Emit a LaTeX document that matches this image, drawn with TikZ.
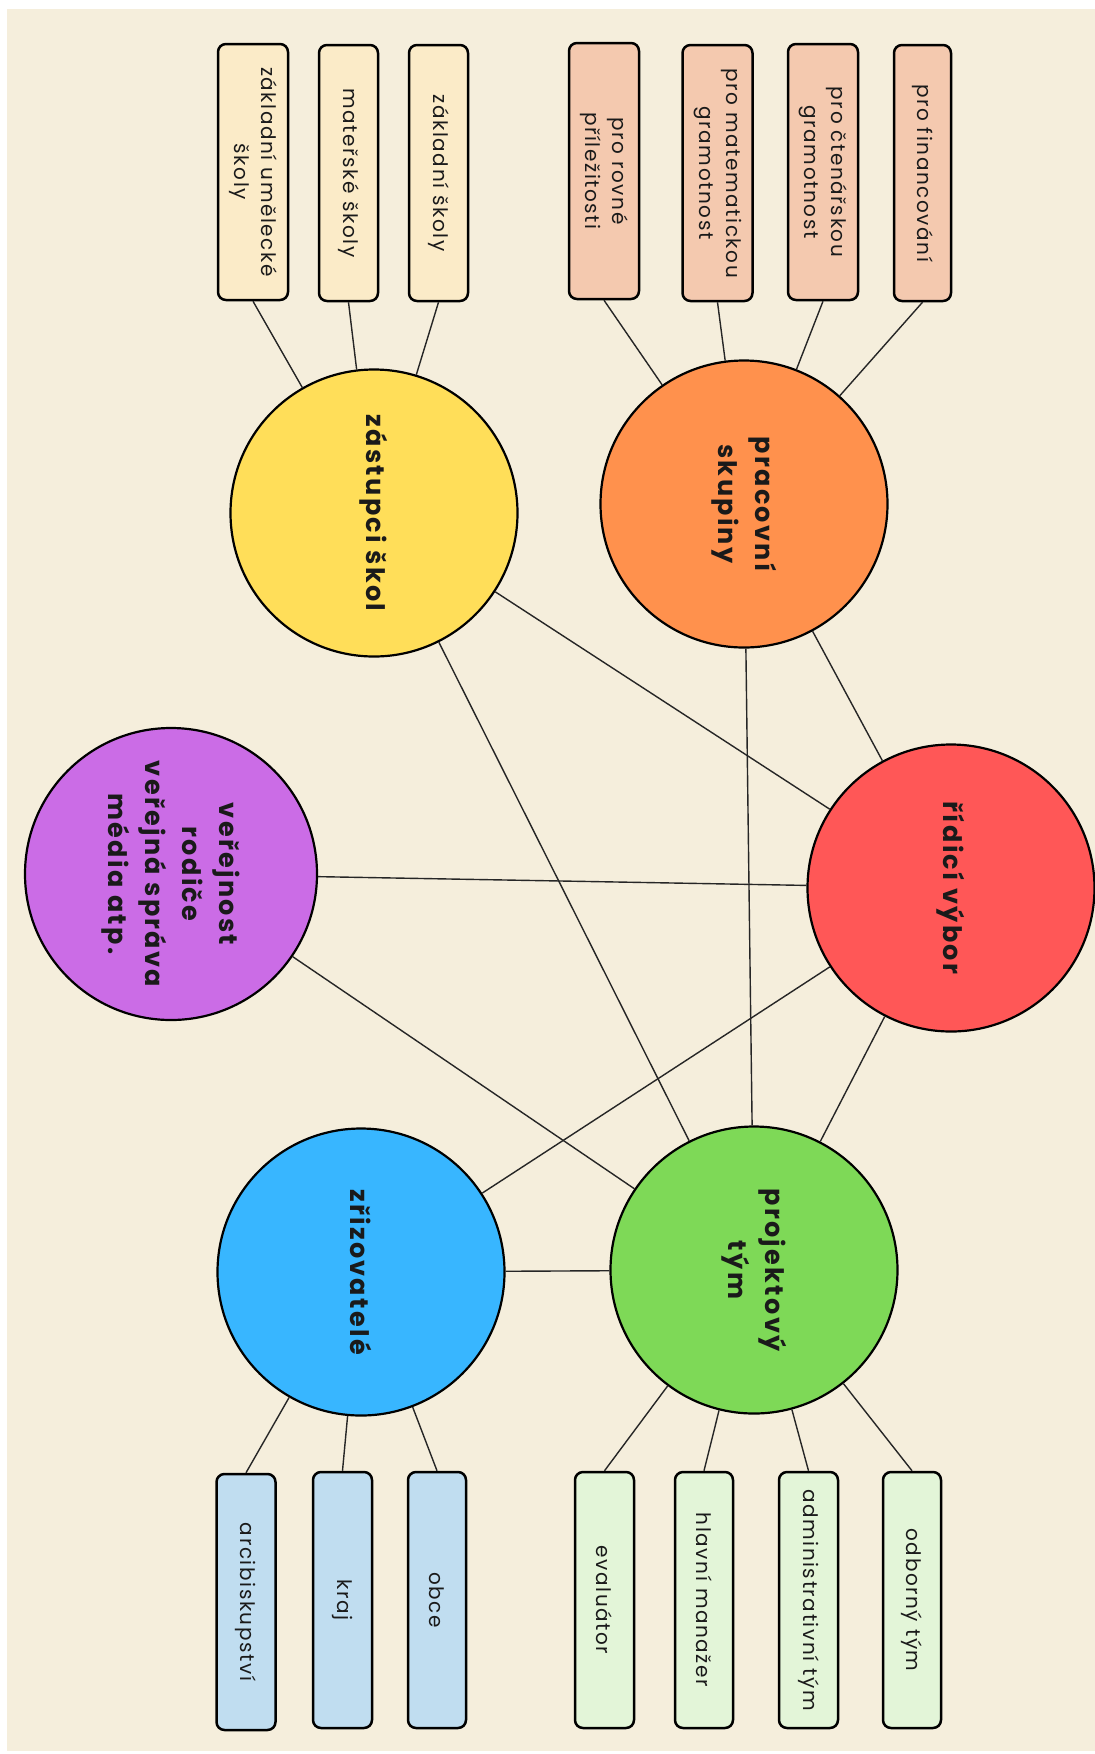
\documentclass[tikz,border=0pt]{standalone}
\usepackage{fontspec}
\setmainfont{Poppins}
\newfontfamily\boxfont{Poppins}[LetterSpace=8]
\newfontfamily\circfont{Poppins}[LetterSpace=9]
\definecolor{bg}{HTML}{F5EEDC}
\definecolor{cyel}{HTML}{FFDE59}
\definecolor{cora}{HTML}{FF914D}
\definecolor{cpur}{HTML}{CB6CE6}
\definecolor{cred}{HTML}{FF5757}
\definecolor{cblu}{HTML}{38B6FF}
\definecolor{cgre}{HTML}{7ED957}
\definecolor{byel}{HTML}{FBEBC8}
\definecolor{bora}{HTML}{F4C9AF}
\definecolor{bblu}{HTML}{C0DDF0}
\definecolor{bgre}{HTML}{E3F5D8}
\definecolor{txt}{HTML}{1A1A1A}
\tikzset{
  hub/.style={circle, draw=black, line width=2.2pt, minimum size=287pt, inner sep=0pt,
    rotate=-90, align=center, text=txt, font=\circfont\bfseries\fontsize{25.5}{37}\selectfont},
  leaf/.style={rectangle, rounded corners=8pt, draw=black, line width=2.5pt,
    minimum width=256pt, minimum height=59pt, inner sep=2pt, rotate=-90, align=center,
    text=txt, font=\boxfont\fontsize{20}{27}\selectfont},
  wide/.style={minimum height=70pt},
  link/.style={draw=black!85, line width=1.4pt}
}
\begin{document}
\begin{tikzpicture}[x=1pt,y=-1pt]
\useasboundingbox (0,0) rectangle (1095,1754);
\fill[white] (0,0) rectangle (1095,1754);
\fill[bg] (7,9) rectangle (1095,1751);

% hubs
\node[hub, fill=cyel] (zs) at (374,513) {zástupci škol};
\node[hub, fill=cora] (ps) at (744,504) {pracovní\\skupiny};
\node[hub, fill=cpur, minimum size=292pt] (ver) at (171,874) {veřejnost\\rodiče\\veřejná správa\\média atp.};
\node[hub, fill=cred] (rv) at (951,888) {řídicí výbor};
\node[hub, fill=cblu] (zr) at (361,1272) {zřizovatelé};
\node[hub, fill=cgre] (pt) at (754,1270) {projektový\\tým};

% top leaves
\node[leaf, wide, fill=byel] (zus) at (253,172) {základní umělecké\\školy};
\node[leaf, fill=byel] (ms) at (348.5,173) {mateřské školy};
\node[leaf, fill=byel] (zsk) at (438.5,173) {základní školy};
\node[leaf, wide, fill=bora] (rov) at (604,171) {pro rovné\\příležitosti};
\node[leaf, wide, fill=bora] (mat) at (717.5,173) {pro matematickou\\gramotnost};
\node[leaf, wide, fill=bora] (cten) at (823,172) {pro čtenářskou\\gramotnost};
\node[leaf, fill=bora, minimum height=57pt] (fin) at (922.5,173) {pro financování};

% bottom leaves
\node[leaf, fill=bblu] (arc) at (246,1602) {arcibiskupství};
\node[leaf, fill=bblu] (kraj) at (342.5,1600) {kraj};
\node[leaf, fill=bblu, minimum height=58pt] (obce) at (437,1600) {obce};
\node[leaf, fill=bgre] (eval) at (604.5,1600) {evaluátor};
\node[leaf, fill=bgre, minimum height=58pt] (hm) at (704,1600) {hlavní manažer};
\node[leaf, fill=bgre] (adm) at (808.5,1600) {administrativní tým};
\node[leaf, fill=bgre, minimum height=58pt] (odb) at (912,1600) {odborný tým};

% hub links
\path[link] (zs) -- (rv);
\path[link] (zs) -- (pt);
\path[link] (ps) -- (rv);
\path[link] (ps) -- (pt);
\path[link] (ver) -- (rv);
\path[link] (ver) -- (pt);
\path[link] (zr) -- (rv);
\path[link] (zr) -- (pt);
\path[link] (rv) -- (pt);

% leaf links
\foreach \b in {zus,ms,zsk} \path[link] (\b.east) -- (zs);
\foreach \b in {rov,mat,cten,fin} \path[link] (\b.east) -- (ps);
\foreach \b in {arc,kraj,obce} \path[link] (\b.west) -- (zr);
\foreach \b in {eval,hm,adm,odb} \path[link] (\b.west) -- (pt);
\end{tikzpicture}
\end{document}
